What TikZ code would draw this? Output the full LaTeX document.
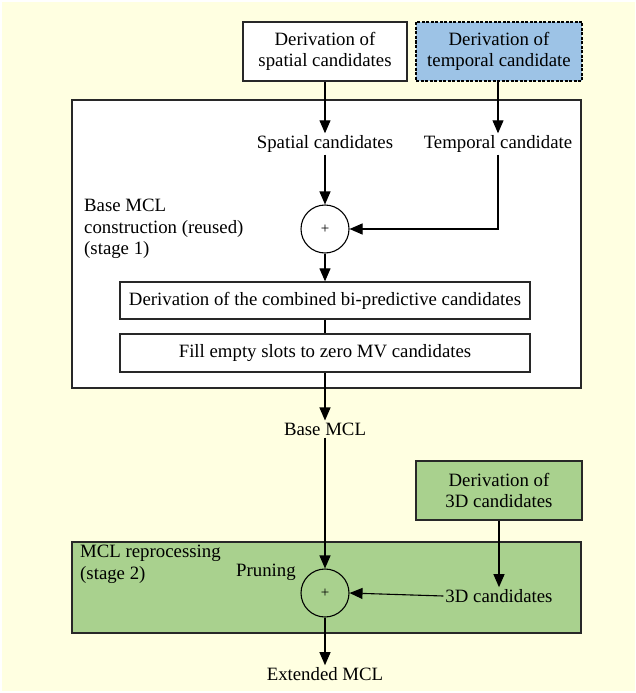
\documentclass[tikz,border=0pt]{standalone}
\usepackage{fontspec}
\setmainfont{Liberation Serif}
\usetikzlibrary{arrows.meta,calc}
\definecolor{paper}{RGB}{255,255,225}
\definecolor{tempblue}{RGB}{157,195,230}
\definecolor{stagegreen}{RGB}{169,209,142}
\definecolor{edge}{RGB}{40,40,40}
\tikzset{
  px/.style={x=1pt,y=-1pt},
  txt/.style={font=\fontsize{18.8}{21.5}\selectfont, align=center, inner sep=2pt},
  box/.style={draw=edge, line width=1.3pt, txt},
  panel/.style={draw=edge, line width=1.3pt, inner sep=0pt},
  sumnode/.style={circle, draw=black, line width=1.1pt, minimum size=48pt, inner sep=0pt, font=\fontsize{15}{15}\selectfont},
  flow/.style={line width=1.1pt, -{Triangle[length=13pt,width=11pt]}},
  link/.style={line width=1.1pt}
}
\begin{document}
\begin{tikzpicture}[px]
  \useasboundingbox (0,0) rectangle (635,693);
  \fill[paper] (2,2) rectangle (635,691);

  % stage panels
  \node[panel, fill=white, minimum width=509pt, minimum height=288pt] (stage1) at (326.5,244) {};
  \node[panel, fill=stagegreen, minimum width=509pt, minimum height=91pt] (stage2) at (326.5,587.5) {};

  % candidate derivation boxes
  \node[box, fill=white, minimum width=164pt, minimum height=59pt] (spatbox) at (325,51.5)
    {Derivation of\\spatial candidates};
  \node[box, fill=tempblue, draw=black, dash pattern=on 3pt off 1.5pt, minimum width=166pt, minimum height=59pt] (tempbox) at (499,51.5)
    {Derivation of\\temporal candidate};
  \node[box, fill=stagegreen, minimum width=166pt, minimum height=59pt] (box3d) at (499,490.5)
    {Derivation of\\3D candidates};

  % labels
  \node[txt] (spatlbl) at (325,144) {Spatial candidates};
  \node[txt] (templbl) at (498,144) {Temporal candidate};
  \node[txt, align=left, anchor=west] (s1lbl) at (82,229) {Base MCL\\construction (reused)\\(stage 1)};
  \node[txt] (basemcl) at (325,429) {Base MCL};
  \node[txt, align=left, anchor=west] (s2lbl) at (78,564.5) {MCL reprocessing\\(stage 2)};
  \node[txt] (prune) at (266,572) {Pruning};
  \node[txt] (lbl3d) at (499,596) {3D candidates};
  \node[txt] (extmcl) at (325,674) {Extended MCL};

  % combining nodes
  \node[sumnode] (sum1) at (325,229) {+};
  \node[sumnode] (sum2) at (325,593) {+};

  % stage 1 processing boxes
  \node[box, fill=white, minimum width=410pt, minimum height=37pt] (combbox) at (325,300.5)
    {Derivation of the combined bi-predictive candidates};
  \node[box, fill=white, minimum width=410pt, minimum height=38pt] (fillbox) at (325,353)
    {Fill empty slots to zero MV candidates};

  % connectors
  \draw[flow] (spatbox.south) -- (spatlbl.north);
  \draw[flow] (tempbox.south -| templbl.north) -- (templbl.north);
  \draw[flow] (spatlbl.south) -- (sum1.north);
  \draw[flow] (templbl.south) |- (sum1.east);
  \draw[flow] (sum1.south) -- (combbox.north);
  \draw[link] (combbox.south) -- (fillbox.north);
  \draw[flow] (fillbox.south) -- (basemcl.north);
  \draw[flow] (basemcl.south) -- (sum2.north);
  \draw[flow] (box3d.south) -- (lbl3d.north -| box3d.south);
  \draw[flow] (lbl3d.west) -- (sum2.east);
  \draw[flow] (sum2.south) -- (extmcl.north);
\end{tikzpicture}
\end{document}
